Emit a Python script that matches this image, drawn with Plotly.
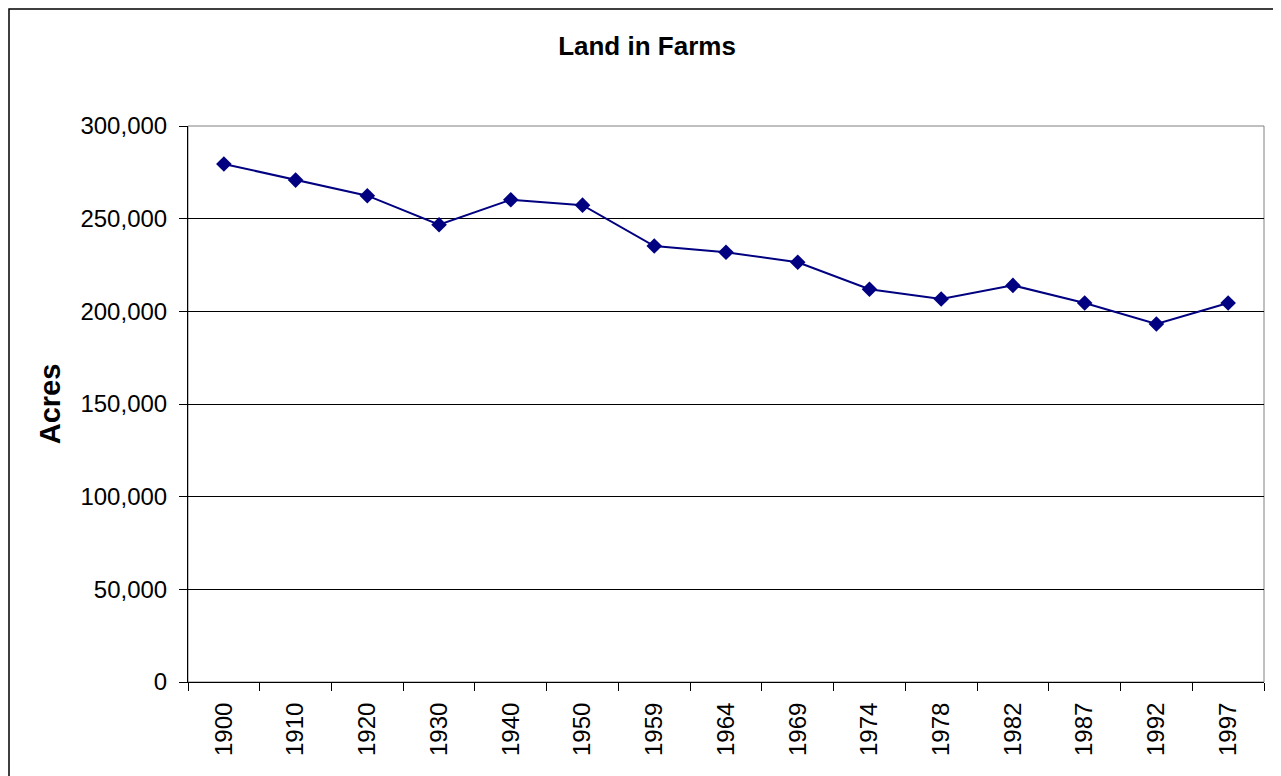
import plotly.graph_objects as go

# Land in farms by census year (acres)
years = ["1900", "1910", "1920", "1930", "1940", "1950", "1959", "1964",
         "1969", "1974", "1978", "1982", "1987", "1992", "1997"]
acres = [279500, 270800, 262400, 246700, 260200, 257300, 235250, 231850,
         226450, 211900, 206650, 214000, 204500, 193200, 204500]

W, H = 1281, 776
OFF = 8  # page body margin shifts the figure
L, T = 188 - OFF, 126 - OFF
pw, ph = 1076, 556
R, B = W - L - pw, H - T - ph

fig = go.Figure()
fig.add_trace(
    go.Scatter(
        x=years,
        y=acres,
        mode="lines+markers",
        line=dict(color="#000080", width=2),
        marker=dict(symbol="diamond", size=12, color="#000080"),
        showlegend=False,
    )
)

# outer chart frame (left and top edges visible) and grey plot-area border
fig.add_shape(
    type="rect", xref="paper", yref="paper",
    x0=(1 - L) / pw, x1=(W + 20 - L) / pw,
    y0=-0.3, y1=(T + ph - 1) / ph,
    line=dict(color="black", width=1.5),
)
fig.add_shape(
    type="rect", xref="paper", yref="paper",
    x0=0, x1=1, y0=0, y1=1,
    line=dict(color="#808080", width=1), layer="below",
)

fig.update_layout(
    width=W,
    height=H,
    margin=dict(l=L, r=R, t=T, b=B),
    paper_bgcolor="white",
    plot_bgcolor="white",
    font=dict(family="Liberation Sans, Arial, sans-serif", size=24, color="black"),
    title=dict(
        text="<b>Land in Farms</b>",
        font=dict(size=26),
        x=(647 - OFF) / W, xref="container", xanchor="center",
        y=1 - (46 - OFF) / H, yref="container", yanchor="middle",
    ),
    xaxis=dict(
        type="category",
        range=[-0.5, len(years) - 0.5],
        tickson="boundaries",
        ticks="outside",
        ticklen=8,
        tickcolor="black",
        ticklabelstandoff=10,
        showline=True,
        linecolor="black",
        tickangle=-90,
        showgrid=False,
    ),
    yaxis=dict(
        range=[0, 300000],
        dtick=50000,
        tickformat=",",
        showgrid=True,
        gridcolor="black",
        gridwidth=1,
        ticks="outside",
        ticklen=8,
        tickcolor="black",
        ticklabelstandoff=7,
        showline=True,
        linecolor="black",
        zeroline=False,
        title=dict(text="<b>Acres</b>", standoff=11),
    ),
)

fig.write_html("out.html")
